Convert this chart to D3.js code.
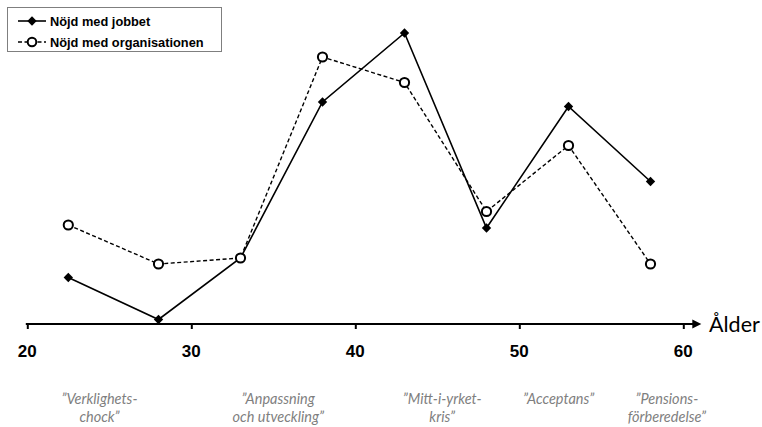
<!DOCTYPE html>
<html>
<head>
<meta charset="utf-8">
<script src="https://cdn.jsdelivr.net/npm/d3@7"></script>
<style>
  html, body { margin: 0; padding: 0; background: #fff; }
  svg { display: block; }
</style>
</head>
<body>
<svg id="chart" width="762" height="427"></svg>
<script>
// Age at each measurement point
const ages = [22.5, 28, 33, 38, 43, 48, 53, 58];
// Satisfaction index (relative units) per series
const jobbet = [15.5, 1.5, 22, 74, 97, 32, 72.5, 47.5];
const organisationen = [33, 20, 22, 89, 80.5, 37.5, 59.5, 20];
const seriesNames = ["Nöjd med jobbet", "Nöjd med organisationen"];
// Axis ticks
const xTicks = [20, 30, 40, 50, 60];
const axisTitle = "Ålder";
// Career phases shown under the axis
const phases = [
  { age: 24.4, lines: ["”Verklighets-", "chock”"] },
  { age: 35.3, lines: ["”Anpassning", "och utveckling”"] },
  { age: 45.3, lines: ["”Mitt-i-yrket-", "kris”"] },
  { age: 52.4, lines: ["”Acceptans”"] },
  { age: 59.0, lines: ["”Pensions-", "förberedelse”"] }
];

const svg = d3.select("#chart");
const x = d3.scaleLinear().domain([20, 60]).range([27.3, 683.3]);
const y = d3.scaleLinear().domain([0, 100]).range([324, 24]);
const axisY = y(0);

// x axis with ticks pointing down
const axis = d3.axisBottom(x).tickValues(xTicks).tickSize(5).tickFormat("");
const gAxis = svg.append("g").attr("transform", `translate(0,${axisY})`).call(axis);
gAxis.select(".domain").remove();
gAxis.selectAll(".tick line").attr("stroke", "#000").attr("stroke-width", 2);

// axis line with arrow head
svg.append("line")
  .attr("x1", x(20) - 1.5).attr("x2", x(60) + 10)
  .attr("y1", axisY).attr("y2", axisY)
  .attr("stroke", "#000").attr("stroke-width", 2.2);
const tipX = x(60) + 18;
svg.append("path")
  .attr("d", `M${tipX},${axisY} L${tipX - 9},${axisY - 4.5} L${tipX - 9},${axisY + 4.5} Z`)
  .attr("fill", "#000");

// tick labels
svg.append("g").selectAll("text").data(xTicks).join("text")
  .attr("x", d => x(d)).attr("y", 357)
  .attr("text-anchor", "middle")
  .attr("font-family", "Liberation Sans, Arial, sans-serif")
  .attr("font-weight", "bold").attr("font-size", 17)
  .text(d => d);

svg.append("text")
  .attr("x", 709).attr("y", 332)
  .attr("font-family", "Lato, sans-serif")
  .attr("font-size", 21.5)
  .text(axisTitle);

// phase labels
const phaseG = svg.append("g")
  .attr("font-family", "Lato, sans-serif")
  .attr("font-style", "italic")
  .attr("font-size", 14.5)
  .attr("fill", "#7f7f7f")
  .attr("text-anchor", "middle");
phases.forEach(p => {
  p.lines.forEach((t, i) => {
    phaseG.append("text")
      .attr("x", x(p.age)).attr("y", 404 + i * 18)
      .text(t);
  });
});

// series lines
const line = d3.line().x((d, i) => x(ages[i])).y(d => y(d));
svg.append("path").datum(jobbet).attr("d", line)
  .attr("fill", "none").attr("stroke", "#000").attr("stroke-width", 1.6);
svg.append("path").datum(organisationen).attr("d", line)
  .attr("fill", "none").attr("stroke", "#000").attr("stroke-width", 1.4)
  .attr("stroke-dasharray", "4,2.5");

// markers
const diamond = d3.symbol().type(d3.symbolDiamond2).size(56);
svg.append("g").selectAll("path").data(jobbet).join("path")
  .attr("d", diamond)
  .attr("transform", (d, i) => `translate(${x(ages[i])},${y(d)})`)
  .attr("fill", "#000");
svg.append("g").selectAll("circle").data(organisationen).join("circle")
  .attr("cx", (d, i) => x(ages[i])).attr("cy", d => y(d))
  .attr("r", 4.6)
  .attr("fill", "#fff").attr("stroke", "#000").attr("stroke-width", 2);

// legend
const lg = svg.append("g");
lg.append("rect")
  .attr("x", 7.5).attr("y", 7.5).attr("width", 214).attr("height", 44)
  .attr("fill", "#fff").attr("stroke", "#7f7f7f").attr("stroke-width", 1);
const legendRows = [
  { name: seriesNames[0], y: 21, dash: null },
  { name: seriesNames[1], y: 42, dash: "4,2.5" }
];
legendRows.forEach((r, i) => {
  lg.append("line")
    .attr("x1", 18).attr("x2", 46).attr("y1", r.y).attr("y2", r.y)
    .attr("stroke", "#000").attr("stroke-width", i === 0 ? 1.6 : 1.4)
    .attr("stroke-dasharray", r.dash);
  if (i === 0) {
    lg.append("path").attr("d", diamond).attr("transform", `translate(32,${r.y})`).attr("fill", "#000");
  } else {
    lg.append("circle").attr("cx", 32).attr("cy", r.y).attr("r", 4.3)
      .attr("fill", "#fff").attr("stroke", "#000").attr("stroke-width", 2);
  }
  lg.append("text")
    .attr("x", 50).attr("y", r.y + 4.5)
    .attr("font-family", "Liberation Sans, Arial, sans-serif")
    .attr("font-weight", "bold").attr("font-size", 12.8)
    .text(r.name);
});
</script>
</body>
</html>
